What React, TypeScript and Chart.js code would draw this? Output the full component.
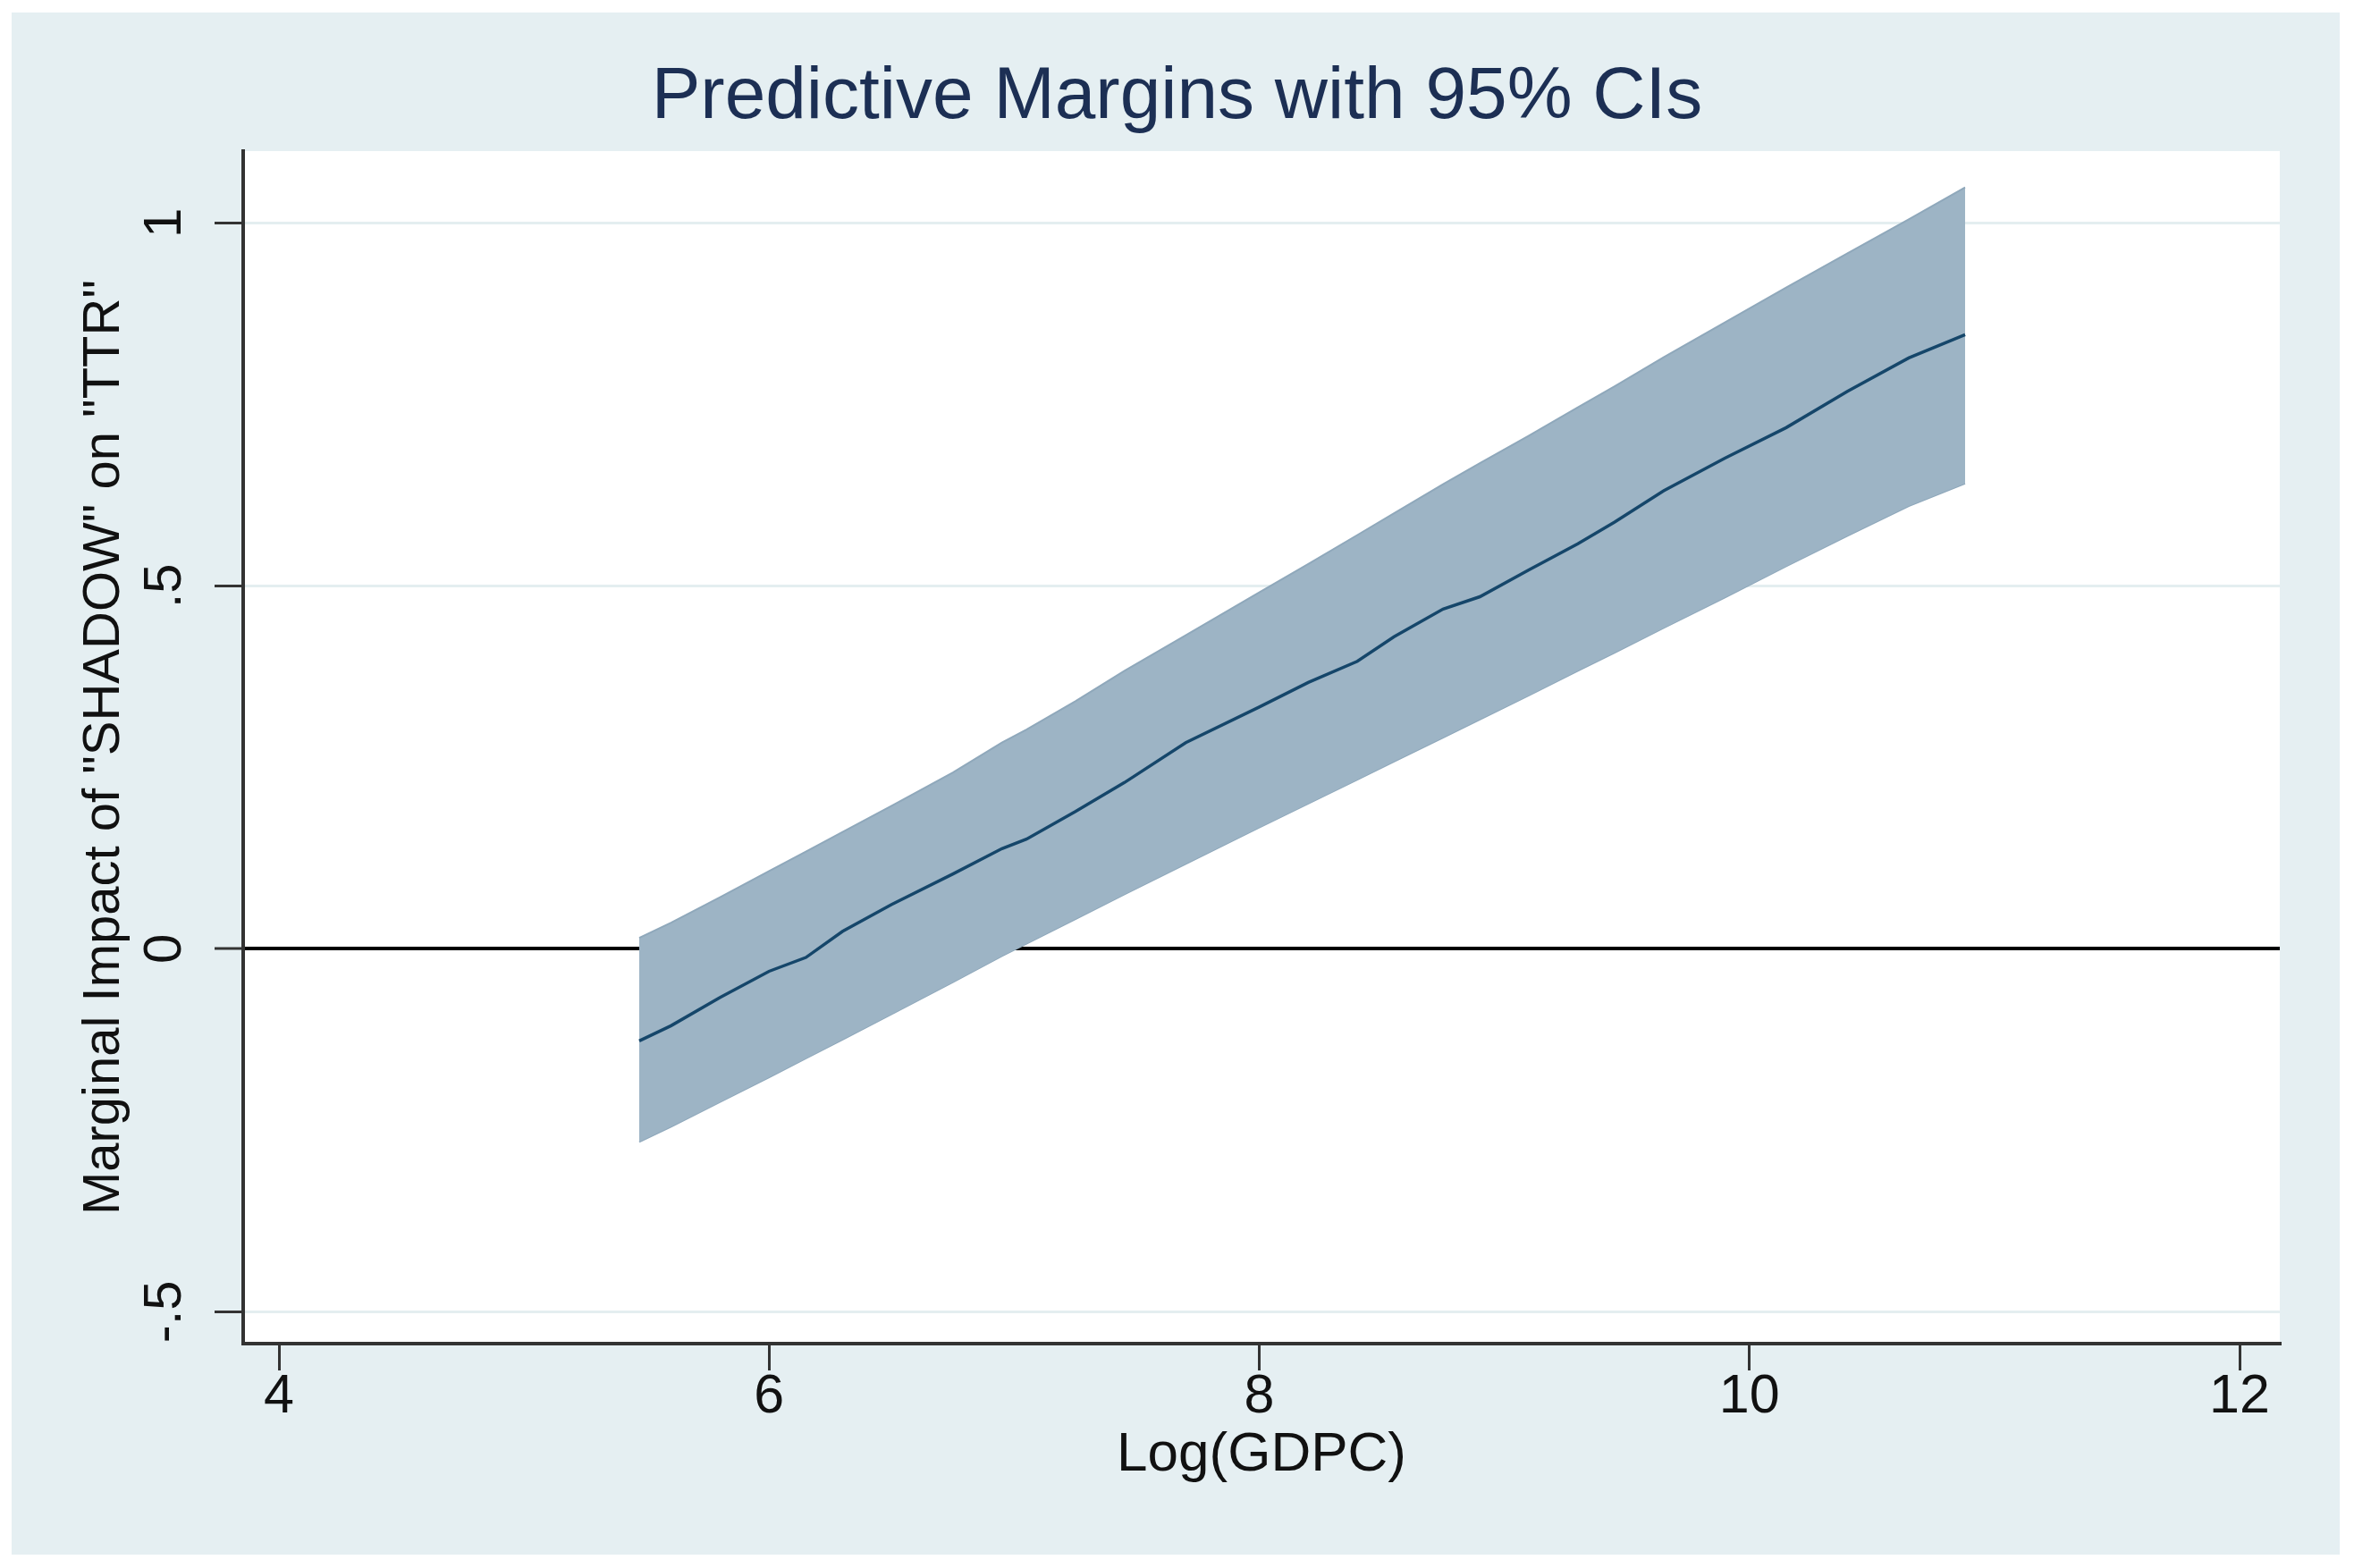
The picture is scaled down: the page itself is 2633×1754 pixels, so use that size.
import React, { useEffect, useRef } from "react";
import { Chart, registerables } from "chart.js";

Chart.register(...registerables);

const FONT_FAMILY = "'Liberation Sans', Arial, Helvetica, sans-serif";

const TITLE = "Predictive Margins with 95% CIs";
const X_TITLE = "Log(GDPC)";
const Y_TITLE = 'Marginal Impact of "SHADOW" on "TTR"';

// Log(GDPC) values at which the predictive margins were read
const X_VALUES = [
  5.47, 5.6, 5.8, 6.0, 6.15, 6.3, 6.5, 6.75, 6.95, 7.05, 7.25, 7.45, 7.7, 8.0,
  8.2, 8.4, 8.55, 8.75, 8.9, 9.1, 9.3, 9.45, 9.65, 9.9, 10.15, 10.4, 10.65, 10.88,
];

// Marginal impact (point estimate)
const MARGIN = [
  -0.127, -0.106, -0.067, -0.031, -0.012, 0.024, 0.061, 0.103, 0.138, 0.151,
  0.189, 0.229, 0.284, 0.333, 0.367, 0.396, 0.43, 0.468, 0.485, 0.522, 0.558,
  0.588, 0.631, 0.676, 0.718, 0.768, 0.814, 0.846,
];

// Upper bound of the 95% CI
const CI_UPPER = [
  0.015, 0.036, 0.071, 0.107, 0.134, 0.161, 0.197, 0.243, 0.284, 0.302, 0.341,
  0.383, 0.432, 0.491, 0.53, 0.57, 0.6, 0.64, 0.669, 0.707, 0.746, 0.775,
  0.815, 0.863, 0.911, 0.958, 1.005, 1.049,
];

// Lower bound of the 95% CI
const CI_LOWER = [
  -0.266, -0.245, -0.211, -0.177, -0.151, -0.125, -0.09, -0.046, -0.01, 0.007,
  0.041, 0.075, 0.117, 0.167, 0.2, 0.233, 0.258, 0.291, 0.316, 0.349, 0.383,
  0.408, 0.442, 0.484, 0.527, 0.569, 0.61, 0.641,
];

const X_TICKS = [4, 6, 8, 10, 12];
const X_TICK_LABELS = ["4", "6", "8", "10", "12"];
const Y_TICKS = [-0.5, 0, 0.5, 1];
const Y_TICK_LABELS = ["-.5", "0", ".5", "1"];

const X_MIN = 3.854;
const X_MAX = 12.164;
const Y_MIN = -0.544;
const Y_MAX = 1.099;

const CANVAS_W = 2633;
const CANVAS_H = 1754;

const panelPlugin = {
  id: "stataPanel",
  beforeDraw(chart: any) {
    const { ctx, chartArea } = chart;
    ctx.save();
    ctx.fillStyle = "#e5eff2";
    ctx.fillRect(13, 14, 2604, 1725);
    ctx.fillStyle = "#ffffff";
    ctx.fillRect(
      chartArea.left,
      chartArea.top,
      chartArea.right - chartArea.left,
      chartArea.bottom - chartArea.top
    );
    ctx.restore();
  },
};

export default function App() {
  const canvasRef = useRef<HTMLCanvasElement>(null);

  useEffect(() => {
    const canvas = canvasRef.current;
    if (!canvas) return;

    const toPoints = (ys: number[]) => X_VALUES.map((x, i) => ({ x, y: ys[i] }));

    const chart = new Chart(canvas, {
      type: "line",
      data: {
        datasets: [
          {
            label: "Margin",
            data: toPoints(MARGIN),
            borderColor: "#15466a",
            borderWidth: 3.5,
            pointRadius: 0,
            fill: false,
            tension: 0,
          },
          {
            label: "Upper 95% CI",
            data: toPoints(CI_UPPER),
            borderColor: "#8fa8bb",
            borderWidth: 2,
            backgroundColor: "#9db4c5",
            pointRadius: 0,
            fill: "+1",
            tension: 0,
          },
          {
            label: "Lower 95% CI",
            data: toPoints(CI_LOWER),
            borderColor: "#8fa8bb",
            borderWidth: 2,
            pointRadius: 0,
            fill: false,
            tension: 0,
          },
        ],
      },
      options: {
        responsive: false,
        animation: false,
        devicePixelRatio: 1,
        layout: { padding: 0 },
        plugins: {
          legend: { display: false },
          tooltip: { enabled: false },
          title: {
            display: true,
            text: TITLE,
            color: "#1c2f54",
            font: { family: FONT_FAMILY, size: 82, weight: "normal", lineHeight: 1.2 },
            padding: { top: 60, bottom: 10.6 },
          },
        },
        scales: {
          x: {
            type: "linear",
            position: "bottom",
            min: X_MIN,
            max: X_MAX,
            bounds: "data",
            afterBuildTicks: (scale: any) => {
              scale.ticks = X_TICKS.map((v) => ({ value: v }));
            },
            afterFit: (scale: any) => {
              scale.height = 251;
            },
            ticks: {
              autoSkip: false,
              maxRotation: 0,
              minRotation: 0,
              padding: 0,
              color: "#111111",
              font: { family: FONT_FAMILY, size: 61, lineHeight: 1 },
              callback: (value: any) => {
                const i = X_TICKS.indexOf(Number(value));
                return i >= 0 ? X_TICK_LABELS[i] : "";
              },
            },
            grid: {
              drawOnChartArea: false,
              color: "#333333",
              lineWidth: 3,
              tickColor: "#333333",
              tickLength: 30,
              tickWidth: 3,
            },
            border: { display: true, color: "#333333", width: 4 },
            title: {
              display: true,
              text: X_TITLE,
              color: "#111111",
              font: { family: FONT_FAMILY, size: 62, lineHeight: 1.2 },
              padding: { top: 0, bottom: 89 },
            },
          },
          y: {
            type: "linear",
            position: "left",
            min: Y_MIN,
            max: Y_MAX,
            bounds: "data",
            afterBuildTicks: (scale: any) => {
              scale.ticks = Y_TICKS.map((v) => ({ value: v }));
            },
            afterFit: (scale: any) => {
              scale.width = 272;
            },
            ticks: {
              autoSkip: false,
              minRotation: 90,
              maxRotation: 90,
              crossAlign: "center",
              padding: 20,
              color: "#111111",
              font: { family: FONT_FAMILY, size: 60, lineHeight: 1 },
              callback: (value: any) => {
                const i = Y_TICKS.indexOf(Number(value));
                return i >= 0 ? Y_TICK_LABELS[i] : "";
              },
            },
            grid: {
              color: (ctx: any) =>
                ctx.tick && ctx.tick.value === 0 ? "#000000" : "#e4eef0",
              lineWidth: (ctx: any) => (ctx.tick && ctx.tick.value === 0 ? 4 : 3),
              tickColor: "#333333",
              tickLength: 32,
              tickWidth: 3,
            },
            border: { display: true, color: "#333333", width: 4 },
            title: {
              display: true,
              text: Y_TITLE,
              color: "#111111",
              font: { family: FONT_FAMILY, size: 58, lineHeight: 1.2 },
              padding: { top: 82, bottom: 0 },
            },
          },
          yRightSpace: {
            type: "linear",
            position: "right",
            display: true,
            afterFit: (scale: any) => {
              scale.width = 83;
            },
            ticks: { display: false },
            grid: { display: false, drawTicks: false },
            border: { display: false },
            title: { display: false },
          },
        },
      },
      plugins: [panelPlugin],
    } as any);

    return () => chart.destroy();
  }, []);

  return (
    <div
      style={{
        position: "absolute",
        left: 0,
        top: 0,
        width: CANVAS_W,
        height: CANVAS_H,
        background: "#ffffff",
        overflow: "hidden",
      }}
    >
      <canvas
        ref={canvasRef}
        width={CANVAS_W}
        height={CANVAS_H}
        style={{ display: "block", width: CANVAS_W, height: CANVAS_H }}
      />
    </div>
  );
}
